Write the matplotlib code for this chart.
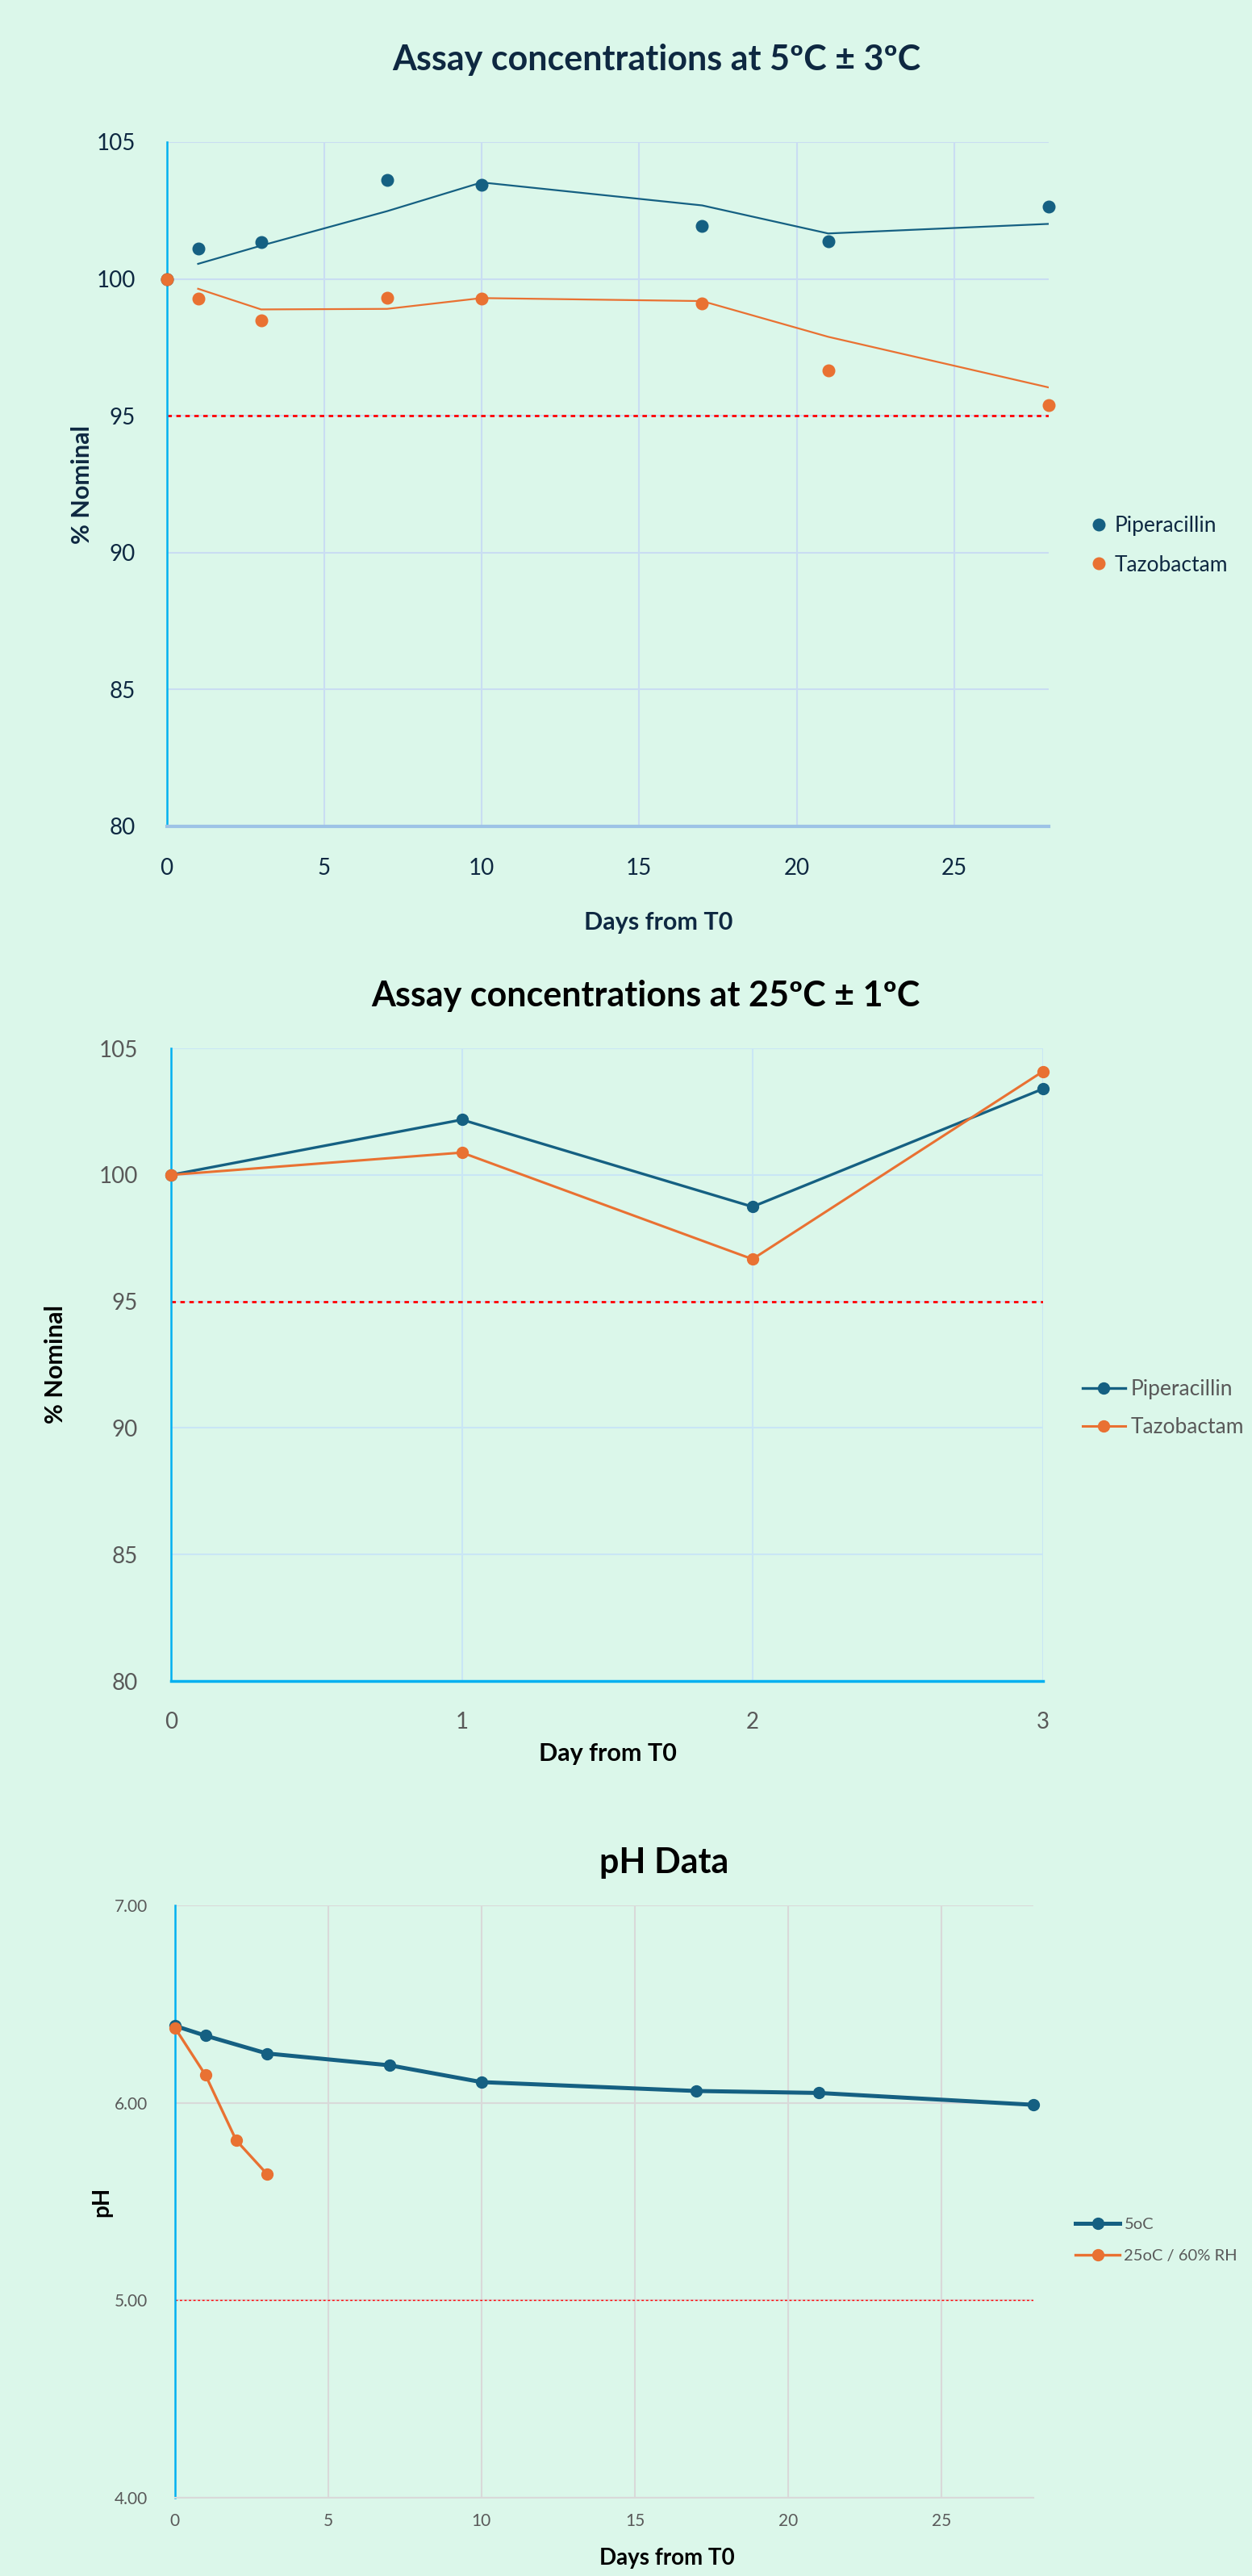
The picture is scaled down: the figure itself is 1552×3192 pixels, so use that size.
import pandas as pd
import matplotlib
matplotlib.use('Agg')
import matplotlib.pyplot as plt
from matplotlib.lines import Line2D

# ---- data ----
days_5c = [0, 1, 3, 7, 10, 17, 21, 28]
pip_5c = [100.0, 101.1, 101.33, 103.62, 103.43, 101.94, 101.38, 102.64]
tazo_5c = [100.0, 99.28, 98.49, 99.32, 99.28, 99.1, 96.67, 95.4]

days_25c = [0, 1, 2, 3]
pip_25c = [100.0, 102.18, 98.74, 103.4]
tazo_25c = [100.0, 100.88, 96.67, 104.09]

days_ph_5c = [0, 1, 3, 7, 10, 17, 21, 28]
ph_5c = [6.39, 6.34, 6.25, 6.19, 6.105, 6.06, 6.05, 5.99]
days_ph_25c = [0, 1, 2, 3]
ph_25c = [6.38, 6.14, 5.81, 5.64]

limit_assay = 95
limit_ph = 5.0

BG = '#DBF7EA'
BLUE = '#156082'
ORANGE = '#E97132'
NAVY = '#0E2841'
GREY = '#595959'
CYAN = '#00B0F0'

plt.rcParams['font.family'] = ['Lato', 'DejaVu Sans']

W, H = 1552, 3192
fig = plt.figure(figsize=(W / 100, H / 100), dpi=100, facecolor=BG)


def px_axes(l, t, r, b):
    return fig.add_axes([l / W, 1 - b / H, (r - l) / W, (b - t) / H], facecolor=BG)


def px_text(x, y, s, **kw):
    return fig.text(x / W, 1 - y / H, s, ha='center', va='center', **kw)


def style_axes(ax, grid_col, left_col, bottom_col, bottom_w):
    for s in ['top', 'right']:
        ax.spines[s].set_visible(False)
    ax.spines['left'].set_color(left_col)
    ax.spines['left'].set_linewidth(1.8)
    ax.spines['bottom'].set_color(bottom_col)
    ax.spines['bottom'].set_linewidth(bottom_w)
    ax.grid(True, color=grid_col, linewidth=1.5)
    ax.set_axisbelow(True)
    ax.tick_params(length=0)


def px_legend(handles, labels, x, y, color, **kw):
    leg = fig.legend(handles=handles, labels=labels, loc='center left',
                     bbox_to_anchor=(x / W, 1 - y / H), frameon=False,
                     borderpad=0, borderaxespad=0, **kw)
    for t in leg.get_texts():
        t.set_color(color)
    return leg


# ---------------- chart 1: 5C, scatter + 2 period moving average ----------------
ax1 = px_axes(206.5, 176, 1300, 1024)
df1 = pd.DataFrame({'day': days_5c, 'pip': pip_5c, 'tazo': tazo_5c})
pip_ma = df1['pip'].rolling(2).mean()
tazo_ma = df1['tazo'].rolling(2).mean()

ax1.plot(df1['day'], pip_ma, color=BLUE, lw=1.6, zorder=3)
ax1.plot(df1['day'], tazo_ma, color=ORANGE, lw=1.6, zorder=3)
ax1.plot(df1['day'], df1['pip'], 'o', color=BLUE, ms=10.5, zorder=4, clip_on=False)
ax1.plot(df1['day'], df1['tazo'], 'o', color=ORANGE, ms=10.5, zorder=5, clip_on=False)
ax1.axhline(limit_assay, color='#FF0000', lw=2, ls=(0, (2, 2)), zorder=2)

ax1.set_xlim(0, 28)
ax1.set_ylim(80, 105)
ax1.set_xticks([0, 5, 10, 15, 20, 25])
ax1.set_yticks([80, 85, 90, 95, 100, 105])
style_axes(ax1, '#C9DDF2', CYAN, '#9DC3E6', 3)
ax1.tick_params(axis='x', labelsize=20, colors=NAVY, pad=28)
ax1.tick_params(axis='y', labelsize=20, colors=NAVY, pad=28)

px_text(814, 74, 'Assay concentrations at 5ºC ± 3ºC', fontsize=31,
        fontweight='bold', color=NAVY)
px_text(816, 1143, 'Days from T0', fontsize=22, fontweight='bold', color=NAVY)
px_text(102, 600, '% Nominal', fontsize=22, fontweight='bold', color=NAVY, rotation=90)

h1 = [Line2D([], [], ls='none', marker='o', color=BLUE, ms=10.5),
      Line2D([], [], ls='none', marker='o', color=ORANGE, ms=10.5)]
px_legend(h1, ['Piperacillin', 'Tazobactam'], 1349, 676, NAVY, fontsize=19,
          handlelength=1.0, handletextpad=0.25, labelspacing=0.88)

# ---------------- chart 2: 25C ----------------
ax2 = px_axes(212.4, 1299, 1293, 2083)
l_pip, = ax2.plot(days_25c, pip_25c, '-o', color=BLUE, lw=2.4, ms=10, zorder=4, clip_on=False)
l_tazo, = ax2.plot(days_25c, tazo_25c, '-o', color=ORANGE, lw=2.2, ms=10, zorder=5, clip_on=False)
ax2.axhline(limit_assay, color='#FF0000', lw=2, ls=(0, (2, 2)), zorder=2)

ax2.set_xlim(0, 3)
ax2.set_ylim(80, 105)
ax2.set_xticks([0, 1, 2, 3])
ax2.set_yticks([80, 85, 90, 95, 100, 105])
style_axes(ax2, '#C9E6F5', CYAN, CYAN, 2.5)
ax2.tick_params(axis='x', labelsize=20, colors=GREY, pad=27)
ax2.tick_params(axis='y', labelsize=20, colors=GREY, pad=30)

px_text(800, 1234, 'Assay concentrations at 25ºC ± 1ºC', fontsize=31,
        fontweight='bold', color='black')
px_text(753, 2173, 'Day from T0', fontsize=22, fontweight='bold', color='black')
px_text(69, 1691, '% Nominal', fontsize=22, fontweight='bold', color='black', rotation=90)

px_legend([l_pip, l_tazo], ['Piperacillin', 'Tazobactam'], 1342, 1745, GREY,
          fontsize=19, handlelength=2.0, handletextpad=0.25, labelspacing=0.85)

# ---------------- chart 3: pH ----------------
ax3 = px_axes(216.8, 2361, 1281, 3095)
l_5c, = ax3.plot(days_ph_5c, ph_5c, '-o', color=BLUE, lw=3.6, ms=10, zorder=4, clip_on=False)
l_25c, = ax3.plot(days_ph_25c, ph_25c, '-o', color=ORANGE, lw=2.4, ms=10, zorder=5, clip_on=False)
ax3.axhline(limit_ph, color='#FF0000', lw=1, ls=(0, (2, 2)), zorder=2)

ax3.set_xlim(0, 28)
ax3.set_ylim(4, 7)
ax3.set_xticks([0, 5, 10, 15, 20, 25])
ax3.set_yticks([4, 5, 6, 7])
ax3.set_yticklabels(['%.2f' % v for v in [4, 5, 6, 7]])
style_axes(ax3, '#D9D9D9', CYAN, '#D9D9D9', 1.5)
ax3.tick_params(axis='x', labelsize=15, colors=GREY, pad=14)
ax3.tick_params(axis='y', labelsize=15, colors=GREY, pad=24)

px_text(823, 2308, 'pH Data', fontsize=31, fontweight='bold', color='black')
px_text(827, 3170, 'Days from T0', fontsize=20, fontweight='bold', color='black')
px_text(126, 2728, 'pH', fontsize=20, fontweight='bold', color='black', rotation=90)

px_legend([l_5c, l_25c], ['5oC', '25oC / 60% RH'], 1333, 2776, GREY,
          fontsize=14.5, handlelength=2.75, handletextpad=0.25, labelspacing=1.1)

fig.savefig('out.png', dpi=100, facecolor=BG)
